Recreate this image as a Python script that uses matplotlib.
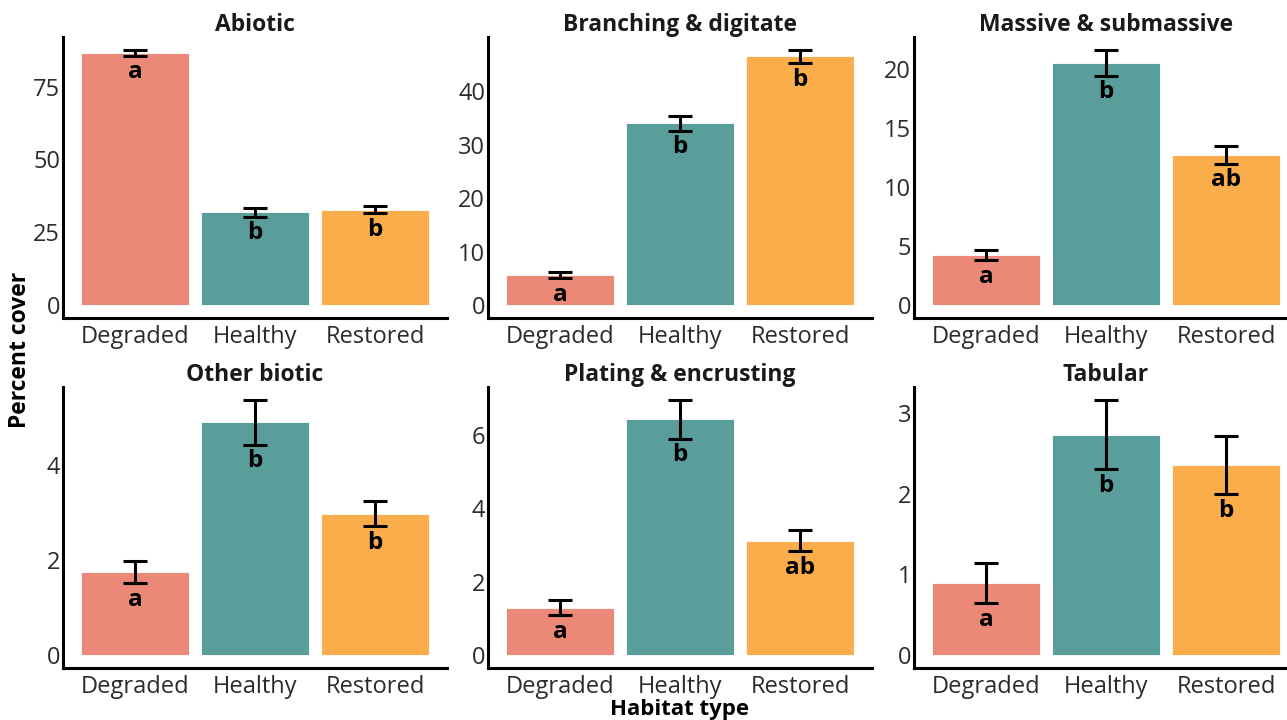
import matplotlib
matplotlib.use("Agg")
import matplotlib.pyplot as plt
import numpy as np

plt.rcParams['font.family'] = ['Open Sans', 'DejaVu Sans']

habitats = ["Degraded", "Healthy", "Restored"]
colors = ["#EC8878", "#5A9E9C", "#FBAC4B"]

panel_titles = ["Abiotic", "Branching & digitate", "Massive & submassive",
                "Other biotic", "Plating & encrusting", "Tabular"]

abiotic_mean = [86.6, 31.8, 32.8]
abiotic_se = [1.0, 1.4, 1.2]
branching_mean = [5.7, 34.0, 46.5]
branching_se = [0.6, 1.4, 1.25]
massive_mean = [4.23, 20.5, 12.73]
massive_se = [0.4, 1.1, 0.75]
other_mean = [1.74, 4.89, 2.97]
other_se = [0.23, 0.47, 0.26]
plating_mean = [1.29, 6.42, 3.12]
plating_se = [0.2, 0.53, 0.29]
tabular_mean = [0.89, 2.73, 2.35]
tabular_se = [0.25, 0.43, 0.36]

abiotic_letters = ["a", "b", "b"]
branching_letters = ["a", "b", "b"]
massive_letters = ["a", "b", "ab"]
other_letters = ["a", "b", "b"]
plating_letters = ["a", "b", "ab"]
tabular_letters = ["a", "b", "b"]

abiotic_ticks = [0, 25, 50, 75]
branching_ticks = [0, 10, 20, 30, 40]
massive_ticks = [0, 5, 10, 15, 20]
other_ticks = [0, 2, 4]
plating_ticks = [0, 2, 4, 6]
tabular_ticks = [0, 1, 2, 3]

means = [abiotic_mean, branching_mean, massive_mean, other_mean, plating_mean, tabular_mean]
ses = [abiotic_se, branching_se, massive_se, other_se, plating_se, tabular_se]
letters = [abiotic_letters, branching_letters, massive_letters, other_letters,
           plating_letters, tabular_letters]
ticks = [abiotic_ticks, branching_ticks, massive_ticks, other_ticks, plating_ticks, tabular_ticks]

W, H = 1287, 720
fig = plt.figure(figsize=(W / 100, H / 100), dpi=100)

col_left = [63, 488, 914]
col_w = 384
row_top = [37, 387]
row_h = 281

tick_color = "#2b2b2b"
for i in range(6):
    r, c = divmod(i, 3)
    l = col_left[c]
    t = row_top[r]
    ax = fig.add_axes([l / W, 1 - (t + row_h) / H, col_w / W, row_h / H])
    m = np.array(means[i])
    s = np.array(ses[i])
    x = np.arange(3)
    ax.bar(x, m, width=0.9, color=colors, edgecolor="white", linewidth=0.6)
    ax.errorbar(x, m, yerr=s, fmt="none", ecolor="black", elinewidth=2.2,
                capsize=8.6, capthick=2.2)
    for xi, mi, si, lab in zip(x, m, s, letters[i]):
        ax.annotate(lab, (xi, mi - si), xytext=(0, -12), textcoords="offset points",
                    ha="center", va="center", fontsize=17.5, fontweight="bold", color="black")
    top = (m + s).max()
    ax.set_ylim(-0.05 * top, 1.05 * top)
    ax.set_xlim(-0.6, 2.6)
    ax.set_yticks(ticks[i])
    ax.set_xticks(x)
    ax.set_xticklabels(habitats)
    ax.tick_params(length=0, labelsize=17, colors=tick_color)
    ax.tick_params(axis="x", pad=5)
    ax.tick_params(axis="y", pad=2)
    for side in ["top", "right"]:
        ax.spines[side].set_visible(False)
    for side in ["left", "bottom"]:
        ax.spines[side].set_linewidth(2.2)
        ax.spines[side].set_color("black")
    ax.set_title(panel_titles[i], fontsize=16.5, fontweight="bold", color="#1a1a1a", pad=3)

fig.text(20 / W, 1 - 350 / H, "Percent cover", rotation=90, ha="center", va="center",
         fontsize=16.5, fontweight="bold", color="black")
fig.text(680 / W, 1 - 709 / H, "Habitat type", ha="center", va="center",
         fontsize=16, fontweight="bold", color="black")

fig.savefig("out.png", dpi=100, facecolor="white")
